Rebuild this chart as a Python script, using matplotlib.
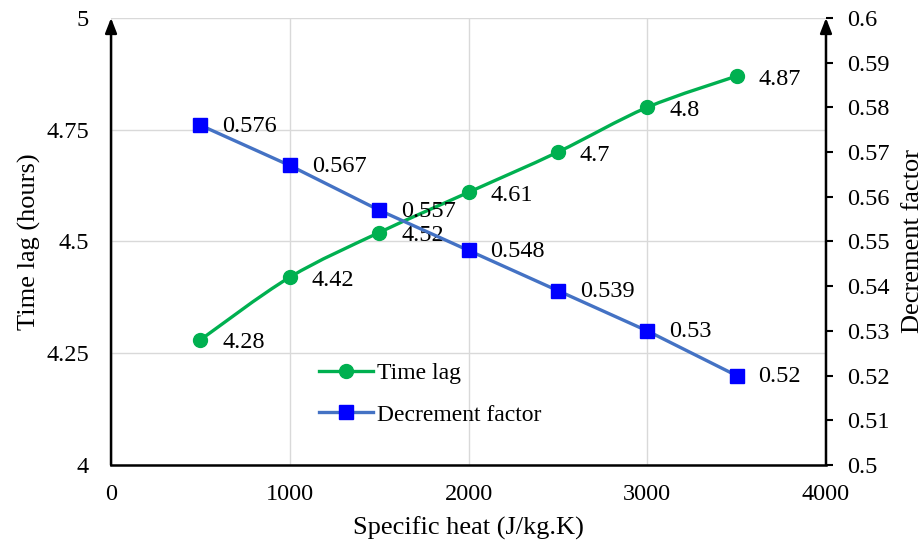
import numpy as np
import matplotlib.pyplot as plt
from matplotlib.path import Path
from matplotlib.patches import PathPatch
from matplotlib.lines import Line2D

plt.rcParams['font.family'] = ['Liberation Serif', 'DejaVu Serif']

specific_heat = [500, 1000, 1500, 2000, 2500, 3000, 3500]
time_lag = [4.28, 4.42, 4.52, 4.61, 4.70, 4.80, 4.87]
decrement = [0.576, 0.567, 0.557, 0.548, 0.539, 0.530, 0.520]
time_lag_labels = ['4.28', '4.42', '4.52', '4.61', '4.7', '4.8', '4.87']
decrement_labels = ['0.576', '0.567', '0.557', '0.548', '0.539', '0.53', '0.52']

x_ticks = [0, 1000, 2000, 3000, 4000]
left_ticks = [4, 4.25, 4.5, 4.75, 5]
left_tick_labels = ['4', '4.25', '4.5', '4.75', '5']
right_ticks = [0.5 + 0.01 * i for i in range(11)]
right_tick_labels = ['0.5', '0.51', '0.52', '0.53', '0.54', '0.55',
                     '0.56', '0.57', '0.58', '0.59', '0.6']

GREEN = '#00B050'
BLUE_LINE = '#4472C4'
BLUE_MARK = '#0000FF'
FS = 17.5
FS_LABEL = 19


def smooth_path(xs, ys):
    """Cubic Bezier path through the points (Catmull-Rom style smoothing)."""
    pts = np.column_stack([xs, ys]).astype(float)
    n = len(pts)
    verts = [pts[0]]
    codes = [Path.MOVETO]
    for i in range(n - 1):
        p0 = pts[i - 1] if i > 0 else pts[i]
        p1 = pts[i]
        p2 = pts[i + 1]
        p3 = pts[i + 2] if i + 2 < n else pts[i + 1]
        c1 = p1 + (p2 - p0) / 6.0
        c2 = p2 - (p3 - p1) / 6.0
        verts += [c1, c2, p2]
        codes += [Path.CURVE4] * 3
    return Path(verts, codes)


fig = plt.figure(figsize=(9.23, 5.44), dpi=100)
ax = fig.add_axes([0.1203, 0.1452, 0.7746, 0.8218])
ax2 = ax.twinx()

# primary axis: time lag
ax.set_xlim(0, 4000)
ax.set_ylim(4, 5)
ax.set_xticks(x_ticks)
ax.set_xticklabels([str(v) for v in x_ticks], fontsize=FS)
ax.set_yticks(left_ticks)
ax.set_yticklabels(left_tick_labels, fontsize=FS)
ax.tick_params(axis='y', length=0, pad=16)
ax.tick_params(axis='x', length=0, pad=14)
ax.grid(True, color='#D9D9D9', linewidth=1)
ax.set_axisbelow(True)
for s in ['top', 'right', 'left']:
    ax.spines[s].set_visible(False)
ax.spines['bottom'].set_linewidth(1.8)
ax.spines['bottom'].set_color('black')

ax.add_patch(PathPatch(smooth_path(specific_heat, time_lag), facecolor='none',
                       edgecolor=GREEN, linewidth=2.4, zorder=3))
ax.plot(specific_heat, time_lag, linestyle='none', marker='o', markersize=10,
        color=GREEN, zorder=4)
for x, y, t in zip(specific_heat, time_lag, time_lag_labels):
    ax.annotate(t, (x, y), xytext=(22, -3), textcoords='offset pixels',
                ha='left', va='center', fontsize=FS, zorder=5)

ax.set_xlabel('Specific heat (J/kg.K)', fontsize=FS_LABEL, labelpad=8)
ax.set_ylabel('Time lag (hours)', fontsize=FS_LABEL, labelpad=4)

# secondary axis: decrement factor
ax2.set_ylim(0.5, 0.6)
ax2.set_yticks(right_ticks)
ax2.set_yticklabels(right_tick_labels, fontsize=FS)
ax2.tick_params(axis='y', direction='out', length=5, width=1.5, pad=10)
for s in ['top', 'right', 'left', 'bottom']:
    ax2.spines[s].set_visible(False)

ax2.plot(specific_heat, decrement, color=BLUE_LINE, linewidth=2.4, zorder=3)
ax2.plot(specific_heat, decrement, linestyle='none', marker='s', markersize=9.5,
         color=BLUE_MARK, zorder=4)
for x, y, t in zip(specific_heat, decrement, decrement_labels):
    ax2.annotate(t, (x, y), xytext=(22, -1), textcoords='offset pixels',
                 ha='left', va='center', fontsize=FS, zorder=5)
ax2.set_ylabel('Decrement factor', fontsize=FS_LABEL, rotation=90, labelpad=9)

# vertical axis lines with arrow heads
for xf in (0, 1):
    ax.annotate('', xy=(xf, 1.0), xytext=(xf, 0.0), xycoords='axes fraction',
                textcoords='axes fraction', annotation_clip=False,
                arrowprops=dict(arrowstyle='-|>,head_length=0.9,head_width=0.35',
                                color='black', linewidth=1.8,
                                shrinkA=0, shrinkB=0))

handles = [
    Line2D([], [], color=GREEN, linewidth=2.4, marker='o', markersize=10),
    Line2D([], [], color=BLUE_LINE, linewidth=2.4, marker='s', markersize=9.5,
           markerfacecolor=BLUE_MARK, markeredgecolor=BLUE_MARK),
]
ax2.legend(handles, ['Time lag', 'Decrement factor'], loc='upper left',
           bbox_to_anchor=(0.261, 0.277), frameon=False, fontsize=17,
           handlelength=2.3, handletextpad=0.17, labelspacing=0.85)

fig.savefig('out.png', dpi=100)
